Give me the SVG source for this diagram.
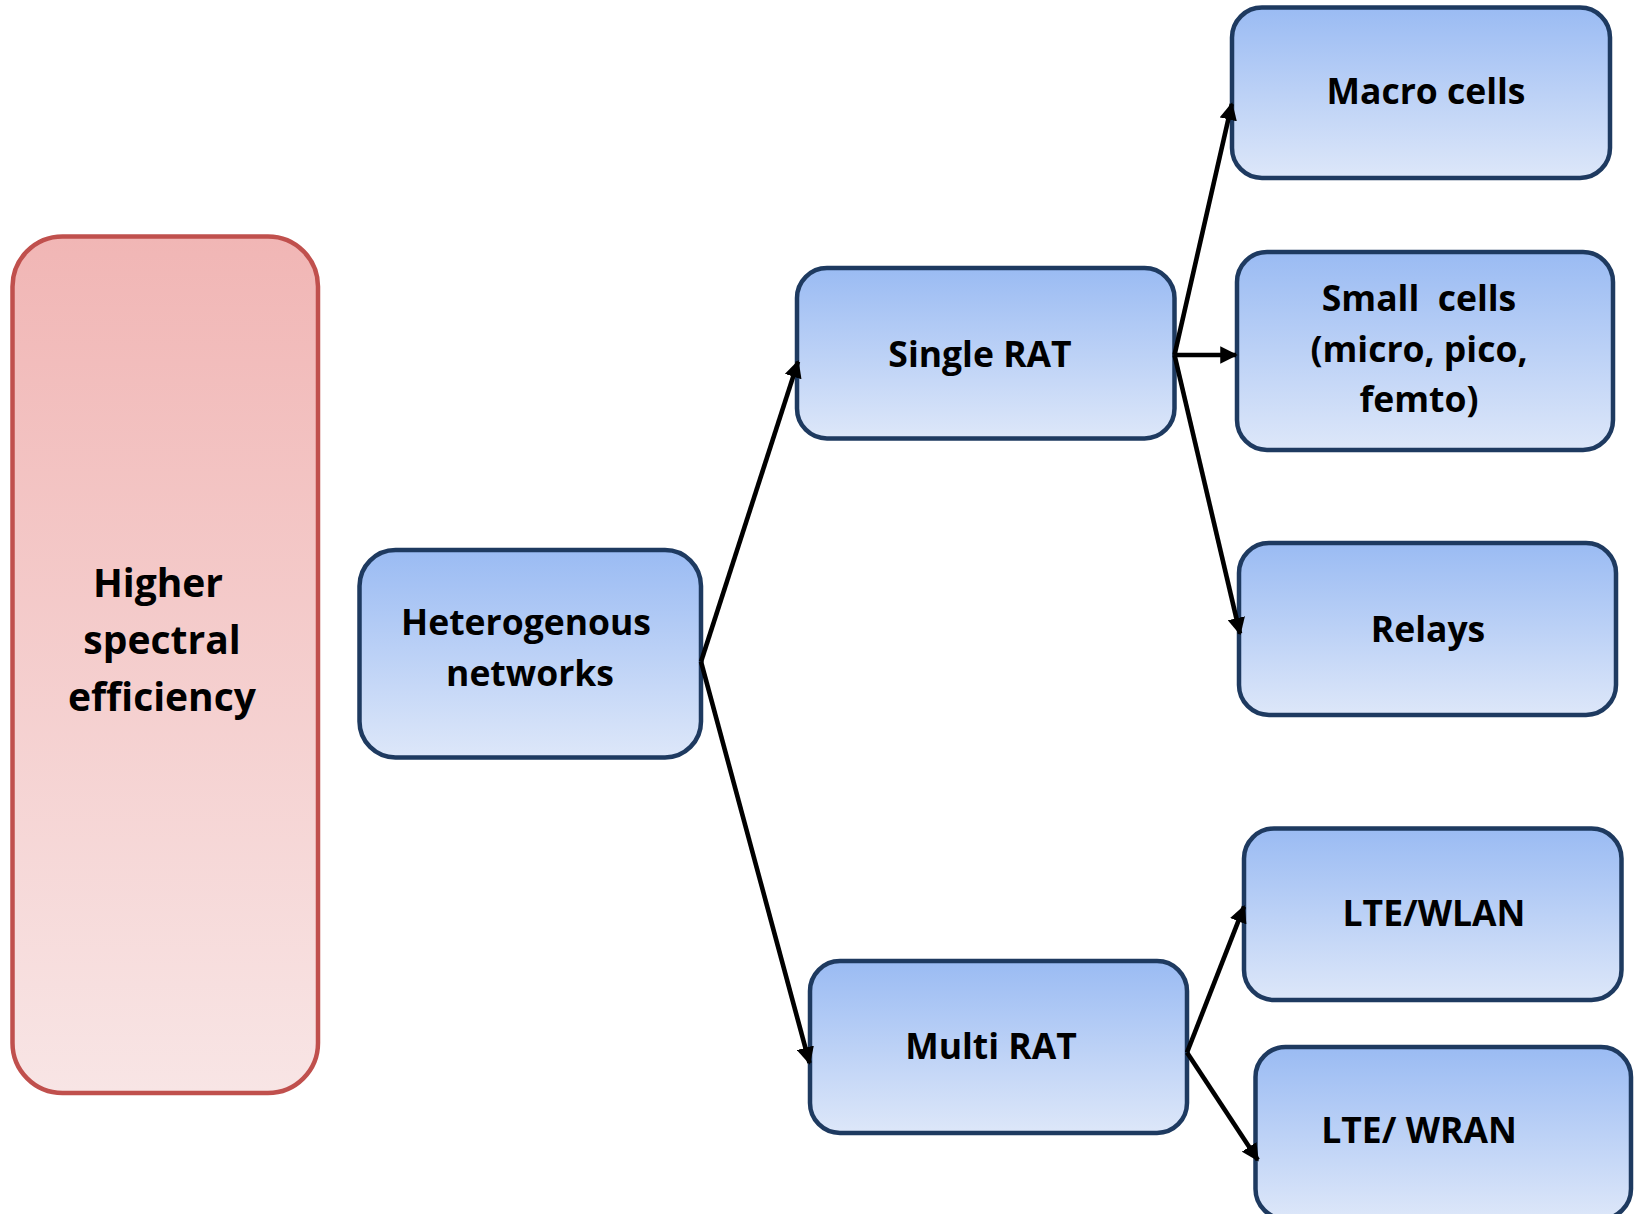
<svg xmlns="http://www.w3.org/2000/svg" width="1634" height="1214" viewBox="0 0 1634 1214">
<defs>
<linearGradient id="gb" x1="0" y1="0" x2="0" y2="1"><stop offset="0" stop-color="#9abbf3"/><stop offset="1" stop-color="#dde7f9"/></linearGradient>
<linearGradient id="gr" x1="0" y1="0" x2="0" y2="1"><stop offset="0" stop-color="#f1b6b5"/><stop offset="1" stop-color="#f8e5e5"/></linearGradient>
<marker id="ah" viewBox="0 0 10 10" refX="9" refY="5" markerWidth="3.8" markerHeight="3.8" orient="auto" markerUnits="strokeWidth"><path d="M0,0 L10,5 L0,10 z" fill="#000"/></marker>
<style>
.b{fill:url(#gb);stroke:#1e3a60;stroke-width:4.5}
.r{fill:url(#gr);stroke:#c0504d;stroke-width:4.5}
.t{font-family:"Open Sans","Liberation Sans",sans-serif;font-weight:bold;font-size:35.5px;fill:#000;text-anchor:middle}
.c{stroke:#000;stroke-width:4.6;fill:none;marker-end:url(#ah)}
</style>
</defs>
<g id="higher"><rect class="r" x="12.5" y="236.5" width="305.5" height="856.5" rx="50"/><text class="t" style="font-size:39px" x="158" y="597">Higher</text><text class="t" style="font-size:39px" x="162" y="654">spectral</text><text class="t" style="font-size:39px" x="162" y="711">efficiency</text></g>
<g id="het"><rect class="b" x="359.5" y="550" width="341.5" height="207.5" rx="36"/><text class="t" x="526" y="635">Heterogenous</text><text class="t" x="530" y="686">networks</text></g>
<g id="single"><rect class="b" x="797" y="268" width="377.5" height="170.5" rx="30"/><text class="t" x="980" y="367">Single RAT</text></g>
<g id="multi"><rect class="b" x="810" y="961" width="377" height="172" rx="30"/><text class="t" x="991" y="1059">Multi RAT</text></g>
<g id="macro"><rect class="b" x="1232" y="7.5" width="378" height="170.5" rx="30"/><text class="t" x="1426" y="104">Macro cells</text></g>
<g id="small"><rect class="b" x="1237" y="252" width="376" height="198" rx="30"/><text class="t" x="1419" y="311" xml:space="preserve">Small  cells</text><text class="t" x="1419" y="362">(micro, pico,</text><text class="t" x="1419" y="412">femto)</text></g>
<g id="relays"><rect class="b" x="1239" y="543" width="377" height="172" rx="30"/><text class="t" x="1428" y="642">Relays</text></g>
<g id="wlan"><rect class="b" x="1244" y="828.5" width="377.5" height="171.5" rx="30"/><text class="t" x="1434" y="926">LTE/WLAN</text></g>
<g id="wran"><rect class="b" x="1255.5" y="1047" width="375.5" height="172" rx="30"/><text class="t" x="1419" y="1143">LTE/ WRAN</text></g>
<g id="connectors">
<line class="c" x1="701" y1="661.7" x2="798" y2="361.6"/>
<line class="c" x1="701" y1="661.7" x2="809.5" y2="1063"/>
<line class="c" x1="1174.5" y1="355" x2="1231.8" y2="104"/>
<line class="c" x1="1174.5" y1="355" x2="1236" y2="355"/>
<line class="c" x1="1174.5" y1="355" x2="1240" y2="633.6"/>
<line class="c" x1="1187" y1="1052.5" x2="1244" y2="906.6"/>
<line class="c" x1="1187" y1="1052.5" x2="1257.8" y2="1160"/>
</g>
</svg>
